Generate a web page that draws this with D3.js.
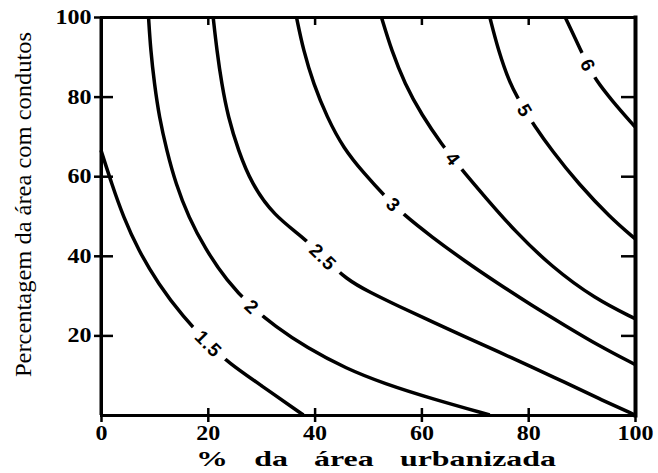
<!DOCTYPE html>
<html>
<head>
<meta charset="utf-8">
<script src="https://cdn.jsdelivr.net/npm/d3@7"></script>
<style>
  body { margin: 0; background: #fff; }
  svg { display: block; }
</style>
</head>
<body>
<svg></svg>
<script>
const width = 658;
const height = 473;

// ticks
const xTicks = [0, 20, 40, 60, 80, 100];
const yTicks = [20, 40, 60, 80, 100];
const innerTicks = [20, 40, 60, 80];

// contour levels and lines ([x, y] in % units)
const levels = ["1.5", "2", "2.5", "3", "4", "5", "6"];
const line15 = [[0, 66.5], [2.0, 58.1], [4.2, 49.7], [7.0, 41.4], [10.7, 33], [15.4, 24.6], [20.1, 17.9], [23.8, 13.2], [29.8, 7.6], [37.9, 0]];
const line2 = [[8.9, 100], [9.3, 91.6], [10.0, 83.2], [10.9, 74.9], [12.3, 66.5], [14.0, 58.1], [16.4, 49.7], [19.5, 41.8], [23.5, 33.8], [28.2, 27.1], [32.5, 22.4], [38.5, 16.9], [46.0, 11.6], [53.0, 7.9], [61.9, 4.1], [72.8, 0]];
const line25 = [[21.0, 100], [21.7, 91.6], [22.6, 83.2], [23.8, 74.9], [25.7, 66.5], [28.2, 58.1], [32.3, 50.2], [38.2, 44.3], [41.6, 39.7], [46.0, 34.0], [50.4, 30.8], [55.6, 27.4], [61.9, 23.5], [68.1, 19.7], [74.4, 15.9], [80.6, 12.1], [86.9, 8.2], [93.1, 4.2], [100, 0]];
const line3 = [[36.6, 100], [37.9, 91.6], [39.8, 83.2], [42.3, 74.9], [45.4, 67.0], [49.4, 60.5], [53.0, 55.2], [56.6, 50.4], [61.9, 44.8], [68.1, 38.7], [74.4, 33.0], [80.6, 27.6], [86.9, 22.5], [93.1, 17.5], [100, 12.7]];
const line4 = [[52.5, 100], [54.4, 91.6], [56.9, 83.2], [60.0, 75.5], [64.1, 67.5], [66.0, 64.3], [67.8, 61.3], [71.9, 54.8], [77.5, 46.2], [84.4, 37.2], [92.5, 29.2], [100, 24.2]];
const line5 = [[72.8, 100], [74.4, 91.6], [76.6, 83.2], [78.1, 79.6], [79.4, 76.5], [80.9, 73.2], [84.4, 66.5], [89.4, 58.1], [95.3, 49.7], [100, 44.3]];
const line6 = [[86.9, 100], [90.0, 91.2], [91.2, 87.9], [92.5, 84.5], [95.6, 79.1], [100, 72.4]];
const contourLines = [line15, line2, line25, line3, line4, line5, line6];
// where each label sits
const labelPos = [[20.1, 17.9], [28.2, 27.1], [41.6, 39.7], [54.7, 52.7], [65.9, 64.3], [79.4, 76.5], [91.2, 87.9]];

let svg = d3.select("svg")
    .attr("width", width)
    .attr("height", height);

const x = d3.scaleLinear().domain([0, 100]).range([101, 635]);
const y = d3.scaleLinear().domain([0, 100]).range([415, 17]);

// contour lines
const line = d3.line()
    .x(d => x(d[0]))
    .y(d => y(d[1]))
    .curve(d3.curveBasis);

let paths = svg.append("g").selectAll("path")
    .data(contourLines)
    .join("path")
    .attr("d", line)
    .attr("fill", "none")
    .attr("stroke", "#000")
    .attr("stroke-width", 3.5);

// labels on lines, with a white gap under them
function nearestLen(node, px, py) {
    const L = node.getTotalLength();
    let best = 0, bd = Infinity;
    for (let s = 0; s <= L; s += 0.5) {
        const p = node.getPointAtLength(s);
        const d = (p.x - px) ** 2 + (p.y - py) ** 2;
        if (d < bd) { bd = d; best = s; }
    }
    return best;
}

let labels = svg.append("g");
paths.each(function (d, i) {
    const node = this;
    const L = node.getTotalLength();
    const s = nearestLen(node, x(labelPos[i][0]), y(labelPos[i][1]));
    const p = node.getPointAtLength(s);
    const a = node.getPointAtLength(Math.max(0, s - 8));
    const b = node.getPointAtLength(Math.min(L, s + 8));
    const ang = Math.atan2(b.y - a.y, b.x - a.x) * 180 / Math.PI;
    let g = labels.append("g").attr("transform", `translate(${p.x},${p.y}) rotate(${ang})`);
    let rect = g.append("rect").attr("fill", "#fff");
    let t = g.append("text")
        .attr("text-anchor", "middle")
        .attr("dy", "0.36em")
        .style("font-family", "'Liberation Sans', Arial, sans-serif")
        .style("font-weight", "bold")
        .style("font-size", "19px")
        .style("letter-spacing", "1px")
        .text(levels[i]);
    const bb = t.node().getBBox();
    rect.attr("x", -bb.width / 2 - 8).attr("y", -11).attr("width", bb.width + 16).attr("height", 22);
});

// axes
const tickFont = "'Liberation Serif', 'Times New Roman', serif";
function styleAxis(g) {
    g.select(".domain").attr("stroke-width", 3).attr("stroke-linecap", "square");
    g.selectAll(".tick line").attr("stroke-width", 2.5);
    g.selectAll(".tick text")
        .style("font-family", tickFont)
        .style("font-weight", "bold")
        .style("font-size", "20px")
        .attr("fill", "#000");
}

let xAxis = svg.append("g")
    .attr("transform", "translate(0,415)")
    .call(d3.axisBottom(x).tickValues(xTicks).tickSizeOuter(0).tickSizeInner(7).tickPadding(4))
    .call(styleAxis);
xAxis.selectAll(".tick line").attr("y1", -7);
xAxis.selectAll(".tick text").attr("transform", "scale(1.2,1)");

let yAxis = svg.append("g")
    .attr("transform", "translate(101,0)")
    .call(d3.axisLeft(y).tickValues(yTicks).tickSizeOuter(0).tickSizeInner(7).tickPadding(1))
    .call(styleAxis);
yAxis.selectAll(".tick line").attr("x1", 12);
yAxis.selectAll(".tick text").attr("transform", "scale(1.2,1)");
svg.append("line")
    .attr("x1", 101).attr("x2", 101).attr("y1", y(100)).attr("y2", y(0))
    .attr("stroke", "#000").attr("stroke-width", 3);

let topAxis = svg.append("g")
    .attr("transform", "translate(0,17)")
    .call(d3.axisTop(x).tickValues(innerTicks).tickSizeOuter(0).tickSizeInner(-8).tickFormat(""))
    .call(styleAxis);

let rightAxis = svg.append("g")
    .attr("transform", "translate(635,0)")
    .call(d3.axisRight(y).tickValues(innerTicks).tickSizeOuter(0).tickSizeInner(-14).tickFormat(""))
    .call(styleAxis);
rightAxis.select(".domain").attr("stroke-width", 4);

// titles
svg.append("text")
    .attr("x", 196).attr("y", 466)
    .attr("textLength", 360)
    .attr("lengthAdjust", "spacingAndGlyphs")
    .style("font-family", tickFont)
    .style("font-weight", "bold")
    .style("font-size", "21px")
    .style("word-spacing", "12px")
    .text("% da área urbanizada");

svg.append("text")
    .attr("transform", "translate(31,377) rotate(-90)")
    .attr("textLength", 345)
    .attr("lengthAdjust", "spacingAndGlyphs")
    .style("font-family", tickFont)
    .style("font-size", "23px")
    .text("Percentagem da área com condutos");
</script>
</body>
</html>
